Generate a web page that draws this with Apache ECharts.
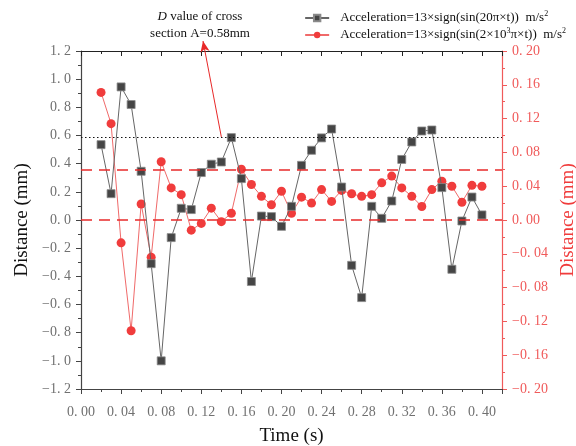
<!DOCTYPE html>
<html>
<head>
    <meta charset="utf-8">
    <title>Distance vs time</title>
    <script src="https://cdn.jsdelivr.net/npm/echarts@6/dist/echarts.min.js"></script>
    <style>
        html, body { margin: 0; padding: 0; background: #fff; }
        #chart { width: 576px; height: 446px; }
    </style>
</head>
<body>
<div id="chart"></div>
<script type="text/javascript">
    // time points (s)
    var times = [0.02, 0.03, 0.04, 0.05, 0.06, 0.07, 0.08, 0.09, 0.10, 0.11,
        0.12, 0.13, 0.14, 0.15, 0.16, 0.17, 0.18, 0.19, 0.20, 0.21,
        0.22, 0.23, 0.24, 0.25, 0.26, 0.27, 0.28, 0.29, 0.30, 0.31,
        0.32, 0.33, 0.34, 0.35, 0.36, 0.37, 0.38, 0.39, 0.40];
    // 20pi series, left axis (mm)
    var dist20 = [0.535, 0.187, 0.945, 0.82, 0.346, -0.31, -1.00, -0.125, 0.083, 0.074,
        0.337, 0.396, 0.412, 0.585, 0.294, -0.437, 0.028, 0.024, -0.045, 0.097,
        0.388, 0.495, 0.583, 0.646, 0.234, -0.322, -0.551, 0.097, 0.012, 0.135,
        0.43, 0.554, 0.632, 0.639, 0.23, -0.35, -0.007, 0.163, 0.036];
    // 2x10^3 pi series, right axis (mm)
    var dist2k = [0.151, 0.114, -0.027, -0.131, 0.019, -0.044, 0.069, 0.038, 0.030, -0.012,
        -0.004, 0.014, -0.002, 0.008, 0.060, 0.042, 0.028, 0.018, 0.034, 0.008,
        0.027, 0.020, 0.036, 0.022, 0.035, 0.031, 0.028, 0.030, 0.044, 0.052,
        0.038, 0.028, 0.016, 0.036, 0.046, 0.040, 0.021, 0.041, 0.040];
    var names = ['Acceleration=13×sign(sin(20π×t))  m/s2', 'Acceleration=13×sign(sin(2×103π×t))  m/s2'];
    var legendRich = [
        'Acceleration=13×sign(sin(20π×t))  m/s{sup|2}',
        'Acceleration=13×sign(sin(2×10{sup|3}π×t))  m/s{sup|2}'
    ];
    var dValue = 0.59;      // dotted reference line (left axis)
    var redLines = [0.06, 0];  // dashed reference lines (right axis)

    var serif = 'Liberation Serif';
    var red = '#f03c3c';
    var redAxis = '#f05a5a';

    function fmt(v, d) {
        var s = Math.abs(v).toFixed(d).replace('.', '. ');
        return (v < -1e-9 ? '\u2212' : '') + s;
    }

    function pair(a, b) {
        var out = [];
        for (var i = 0; i < a.length; i++) out.push([a[i], b[i]]);
        return out;
    }

    var myChart = echarts.init(document.getElementById('chart'), null, {renderer: 'canvas'});

    var option = {
        backgroundColor: '#fff',
        animation: false,
        grid: {left: 81, right: 74, top: 51, bottom: 57, outerBoundsMode: 'none', containLabel: false},
        legend: {
            orient: 'vertical',
            right: 5,
            top: 5,
            itemGap: 1,
            itemWidth: 24,
            itemHeight: 8,
            data: names,
            formatter: function (name) {
                return legendRich[names.indexOf(name)];
            },
            textStyle: {
                fontFamily: serif,
                fontSize: 13,
                color: '#111',
                lineHeight: 16,
                padding: [0, 0, 0, 6],
                rich: {
                    sup: {fontFamily: serif, fontSize: 8, lineHeight: 8, verticalAlign: 'top', color: '#111'}
                }
            }
        },
        graphic: [{
            type: 'text',
            x: 200,
            y: 8,
            style: {
                text: '{i|D} value of cross\nsection A=0.58mm',
                font: '13px "Liberation Serif"',
                fill: '#111',
                align: 'center',
                lineHeight: 17,
                rich: {
                    i: {fontStyle: 'italic', fontFamily: serif, fontSize: 13, fill: '#111'}
                }
            }
        }],
        xAxis: [{
            type: 'value',
            position: 'bottom',
            min: 0, max: 0.42, interval: 0.04,
            name: 'Time (s)',
            nameLocation: 'middle',
            nameGap: 38,
            nameTextStyle: {fontFamily: serif, fontSize: 19, color: '#111'},
            axisLine: {onZero: false, lineStyle: {color: '#444', width: 1.2}},
            axisTick: {length: 5, lineStyle: {color: '#444'}},
            axisLabel: {
                fontFamily: serif, fontSize: 14, color: '#707070', margin: 16,
                formatter: function (v) { return v > 0.405 ? '' : fmt(v, 2); }
            },
            splitLine: {show: false}
        }, {
            type: 'value',
            position: 'bottom',
            min: 0, max: 0.42, interval: 0.02,
            axisLine: {show: false, onZero: false},
            axisTick: {length: 3, lineStyle: {color: '#444'}},
            axisLabel: {show: false},
            splitLine: {show: false}
        }, {
            type: 'value',
            position: 'top',
            min: 0, max: 0.42, interval: 0.04,
            axisLine: {onZero: false, lineStyle: {color: '#222', width: 1.2}},
            axisTick: {show: true, inside: true, length: 5, lineStyle: {color: '#222', width: 1}},
            axisLabel: {show: false},
            splitLine: {show: false}
        }, {
            type: 'value',
            position: 'top',
            min: 0, max: 0.42, interval: 0.02,
            axisLine: {show: false, onZero: false},
            axisTick: {show: true, inside: true, length: 3, lineStyle: {color: '#222', width: 1}},
            axisLabel: {show: false},
            splitLine: {show: false}
        }],
        yAxis: [{
            type: 'value',
            position: 'left',
            min: -1.2, max: 1.2, interval: 0.2,
            name: 'Distance (mm)',
            nameLocation: 'middle',
            nameRotate: 90,
            nameGap: 44,
            nameTextStyle: {fontFamily: serif, fontSize: 19, color: '#111'},
            axisLine: {onZero: false, lineStyle: {color: '#444', width: 1.2}},
            axisTick: {length: 5, lineStyle: {color: '#444'}},
            minorTick: {show: true, splitNumber: 2, length: 3, lineStyle: {color: '#444'}},
            axisLabel: {
                fontFamily: serif, fontSize: 14, color: '#707070', margin: 10,
                formatter: function (v) { return fmt(v, 1); }
            },
            splitLine: {show: false}
        }, {
            type: 'value',
            position: 'right',
            min: -0.2, max: 0.2, interval: 0.04,
            name: 'Distance (mm)',
            nameLocation: 'middle',
            nameRotate: 90,
            nameGap: 54,
            nameTextStyle: {fontFamily: serif, fontSize: 19, color: red},
            axisLine: {onZero: false, lineStyle: {color: redAxis, width: 1.2}},
            axisTick: {length: 5, lineStyle: {color: redAxis}},
            minorTick: {show: true, splitNumber: 2, length: 3, lineStyle: {color: redAxis}},
            axisLabel: {
                fontFamily: serif, fontSize: 14, color: redAxis, margin: 10,
                formatter: function (v) { return fmt(v, 2); }
            },
            splitLine: {show: false}
        }],
        series: [{
            name: names[0],
            type: 'line',
            xAxisIndex: 0,
            yAxisIndex: 0,
            clip: false,
            data: pair(times, dist20),
            symbol: 'rect',
            symbolSize: 8,
            itemStyle: {color: '#454545', borderColor: '#8a8a8a', borderWidth: 0.8},
            lineStyle: {color: '#666', width: 1},
            z: 3,
            markLine: {
                silent: true,
                symbol: 'none',
                label: {show: false},
                data: [
                    {yAxis: dValue, lineStyle: {color: '#111', type: [1.5, 2.5], width: 1}},
                    [
                        {coord: [0.14, dValue], symbol: 'none', lineStyle: {color: '#e82828', type: 'solid', width: 1}},
                        {x: 203, y: 41, symbol: 'arrow', symbolSize: [7, 11]}
                    ]
                ]
            }
        }, {
            name: names[1],
            type: 'line',
            xAxisIndex: 0,
            yAxisIndex: 1,
            data: pair(times, dist2k),
            symbol: 'circle',
            symbolSize: 9,
            itemStyle: {color: red},
            lineStyle: {color: '#f06a6a', width: 1},
            z: 2,
            markLine: {
                silent: true,
                symbol: 'none',
                label: {show: false},
                lineStyle: {color: '#e82a2a', type: [11, 7], width: 1.5},
                data: redLines.map(function (v) { return {yAxis: v}; })
            }
        }]
    };
    myChart.setOption(option);
</script>
</body>
</html>
